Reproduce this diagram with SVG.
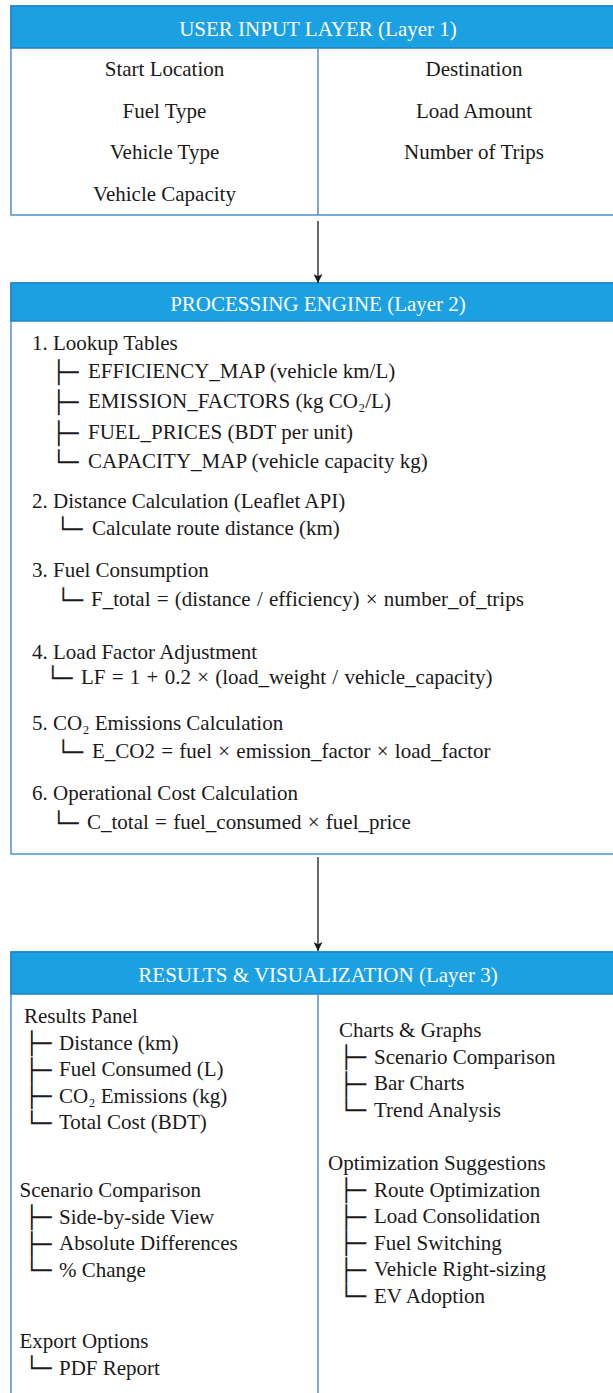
<svg xmlns="http://www.w3.org/2000/svg" width="613" height="1393" viewBox="0 0 613 1393">
<style>
.body{fill:#ffffff;stroke:#4a90cf;stroke-width:1.5}
.head{fill:#1ba1e2;stroke:#1a86c8;stroke-width:1.5}
.div{stroke:#4a90cf;stroke-width:1.5}
.ht{font-family:"Liberation Serif","Times New Roman",serif;font-size:21px;fill:#ffffff;text-anchor:middle}
.t{font-family:"Liberation Serif","Times New Roman",serif;font-size:21px;fill:#1a1a1a}
.c{text-anchor:middle}
.f{word-spacing:1px}
.tr{font-family:"DejaVu Sans Mono",monospace;font-size:22px;fill:#1a1a1a}
.conn{stroke:#1a1a1a;stroke-width:1.3;fill:none}
</style>
<defs>
<marker id="arr" viewBox="0 0 10 10" refX="10" refY="5" markerWidth="9" markerHeight="9" markerUnits="userSpaceOnUse" orient="auto">
<path d="M0,0 L10,5 L0,10 L2.5,5 Z" fill="#1a1a1a"/>
</marker>
</defs>

<g id="layer1">
<rect class="body" x="11" y="6" width="620" height="209"/>
<rect class="head" x="11" y="6" width="620" height="42"/>
<line class="div" x1="318" y1="48" x2="318" y2="215"/>
<text class="ht" x="318" y="36">USER INPUT LAYER (Layer 1)</text>
<text class="t c" x="164.5" y="76">Start Location</text>
<text class="t c" x="164.5" y="118">Fuel Type</text>
<text class="t c" x="164.5" y="159">Vehicle Type</text>
<text class="t c" x="164.5" y="201">Vehicle Capacity</text>
<text class="t c" x="474" y="76">Destination</text>
<text class="t c" x="474" y="118">Load Amount</text>
<text class="t c" x="474" y="159">Number of Trips</text>
</g>

<g id="layer2">
<rect class="body" x="11" y="283" width="620" height="571"/>
<rect class="head" x="11" y="283" width="620" height="38"/>
<text class="ht" x="318" y="311">PROCESSING ENGINE (Layer 2)</text>
<text class="t" x="32" y="350">1. Lookup Tables</text>
<text class="t"><tspan class="tr" x="52" y="379.5">├─</tspan><tspan x="88" y="378">EFFICIENCY_MAP (vehicle km/L)</tspan></text>
<text class="t"><tspan class="tr" x="52" y="409.5">├─</tspan><tspan x="88" y="408">EMISSION_FACTORS (kg CO₂/L)</tspan></text>
<text class="t"><tspan class="tr" x="52" y="440.5">├─</tspan><tspan x="88" y="439">FUEL_PRICES (BDT per unit)</tspan></text>
<text class="t"><tspan class="tr" x="52" y="469.5">└─</tspan><tspan x="88" y="468">CAPACITY_MAP (vehicle capacity kg)</tspan></text>
<text class="t" x="32" y="508">2. Distance Calculation (Leaflet API)</text>
<text class="t"><tspan class="tr" x="56" y="536.5">└─</tspan><tspan x="92" y="535">Calculate route distance (km)</tspan></text>
<text class="t" x="32" y="577">3. Fuel Consumption</text>
<text class="t"><tspan class="tr" x="56.5" y="607.5">└─</tspan><tspan class="f" x="91" y="606">F_total = (distance / efficiency) × number_of_trips</tspan></text>
<text class="t" x="32" y="659">4. Load Factor Adjustment</text>
<text class="t"><tspan class="tr" x="46" y="685.5">└─</tspan><tspan class="f" x="81" y="684">LF = 1 + 0.2 × (load_weight / vehicle_capacity)</tspan></text>
<text class="t" x="32" y="730">5. CO₂ Emissions Calculation</text>
<text class="t"><tspan class="tr" x="56.5" y="759.5">└─</tspan><tspan class="f" x="92" y="758">E_CO2 = fuel × emission_factor × load_factor</tspan></text>
<text class="t" x="32" y="800">6. Operational Cost Calculation</text>
<text class="t"><tspan class="tr" x="52" y="830.5">└─</tspan><tspan class="f" x="87" y="829">C_total = fuel_consumed × fuel_price</tspan></text>
</g>

<g id="layer3">
<rect class="body" x="11" y="952" width="620" height="460"/>
<rect class="head" x="11" y="952" width="620" height="42"/>
<line class="div" x1="318" y1="994" x2="318" y2="1400"/>
<text class="ht" x="318" y="982">RESULTS &amp; VISUALIZATION (Layer 3)</text>
<text class="t" x="24" y="1023">Results Panel</text>
<text class="t"><tspan class="tr" x="25" y="1051">├─</tspan><tspan x="59" y="1049.5">Distance (km)</tspan></text>
<text class="t"><tspan class="tr" x="25" y="1077.5">├─</tspan><tspan x="59" y="1076">Fuel Consumed (L)</tspan></text>
<text class="t"><tspan class="tr" x="25" y="1104">├─</tspan><tspan x="59" y="1102.5">CO₂ Emissions (kg)</tspan></text>
<text class="t"><tspan class="tr" x="25" y="1130.5">└─</tspan><tspan x="59" y="1129">Total Cost (BDT)</tspan></text>
<text class="t" x="19.5" y="1197">Scenario Comparison</text>
<text class="t"><tspan class="tr" x="25" y="1225">├─</tspan><tspan x="59" y="1223.5">Side-by-side View</tspan></text>
<text class="t"><tspan class="tr" x="25" y="1251.5">├─</tspan><tspan x="59" y="1250">Absolute Differences</tspan></text>
<text class="t"><tspan class="tr" x="25" y="1278">└─</tspan><tspan x="59" y="1276.5">% Change</tspan></text>
<text class="t" x="19.5" y="1348">Export Options</text>
<text class="t"><tspan class="tr" x="25" y="1376">└─</tspan><tspan x="59" y="1374.5">PDF Report</tspan></text>
<text class="t" x="339" y="1037">Charts &amp; Graphs</text>
<text class="t"><tspan class="tr" x="339.5" y="1065">├─</tspan><tspan x="374" y="1063.5">Scenario Comparison</tspan></text>
<text class="t"><tspan class="tr" x="339.5" y="1091.5">├─</tspan><tspan x="374" y="1090">Bar Charts</tspan></text>
<text class="t"><tspan class="tr" x="339.5" y="1118">└─</tspan><tspan x="374" y="1116.5">Trend Analysis</tspan></text>
<text class="t" x="328" y="1170">Optimization Suggestions</text>
<text class="t"><tspan class="tr" x="339.5" y="1198">├─</tspan><tspan x="374" y="1196.5">Route Optimization</tspan></text>
<text class="t"><tspan class="tr" x="339.5" y="1224.5">├─</tspan><tspan x="374" y="1223">Load Consolidation</tspan></text>
<text class="t"><tspan class="tr" x="339.5" y="1251">├─</tspan><tspan x="374" y="1249.5">Fuel Switching</tspan></text>
<text class="t"><tspan class="tr" x="339.5" y="1277.5">├─</tspan><tspan x="374" y="1276">Vehicle Right-sizing</tspan></text>
<text class="t"><tspan class="tr" x="339.5" y="1304">└─</tspan><tspan x="374" y="1302.5">EV Adoption</tspan></text>
</g>

<g id="connectors">
<line class="conn" x1="318" y1="221" x2="318" y2="283" marker-end="url(#arr)"/>
<line class="conn" x1="318" y1="857" x2="318" y2="951" marker-end="url(#arr)"/>
</g>
</svg>
